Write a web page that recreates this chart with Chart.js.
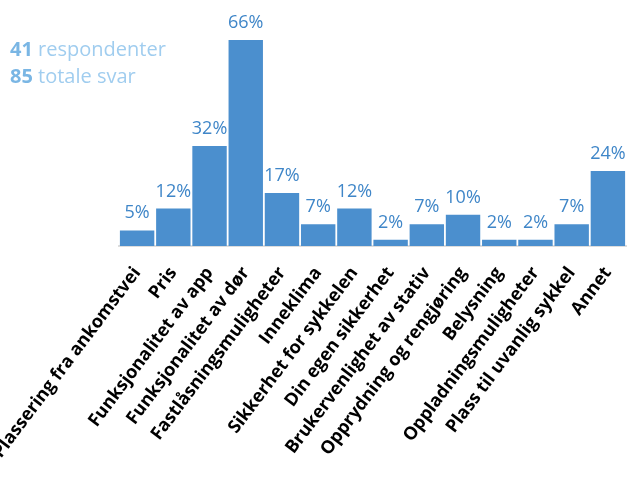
<!DOCTYPE html>
<html>
<head>
<meta charset="utf-8">
<script src="https://cdn.jsdelivr.net/npm/chart.js@4.4.0/dist/chart.umd.min.js"></script>
<style>
  html, body { margin: 0; padding: 0; background: #fff; }
  #wrap { position: relative; width: 636px; height: 479px; overflow: hidden; }
  #summary {
    position: absolute; left: 10px; top: 35px;
    font-family: "Open Sans", sans-serif; font-size: 20px; line-height: 27px;
    color: #a0cdef; font-weight: 400;
  }
  #summary b { color: #7ab6e4; font-weight: 700; }
</style>
</head>
<body>
<div id="wrap">
  <canvas id="chart" width="636" height="479"></canvas>
  <div id="summary"><b>41</b> respondenter<br><b>85</b> totale svar</div>
</div>
<script>
const categories = [
    'Plassering fra ankomstvei', 'Pris', 'Funksjonalitet av app', 'Funksjonalitet av dør',
    'Fastlåsningsmuligheter', 'Inneklima', 'Sikkerhet for sykkelen', 'Din egen sikkerhet',
    'Brukervenlighet av stativ', 'Opprydning og rengjøring', 'Belysning',
    'Oppladningsmuligheter', 'Plass til uvanlig sykkel', 'Annet'
];
const percentages = [5, 12, 32, 66, 17, 7, 12, 2, 7, 10, 2, 2, 7, 24];

// percentage labels above each bar
const valueLabels = {
    id: 'valueLabels',
    afterDatasetsDraw(chart) {
        const ctx = chart.ctx;
        const meta = chart.getDatasetMeta(0);
        ctx.save();
        ctx.font = '18px "Open Sans", sans-serif';
        ctx.fillStyle = '#3f86c8';
        ctx.textAlign = 'center';
        ctx.textBaseline = 'alphabetic';
        meta.data.forEach((bar, i) => {
            ctx.fillText(percentages[i] + '%', bar.x, bar.y - 12);
        });
        ctx.restore();
    }
};

const ctx = document.getElementById('chart').getContext('2d');
new Chart(ctx, {
    type: 'bar',
    data: {
        labels: categories,
        datasets: [{
            data: percentages,
            backgroundColor: '#4b8fce',
            borderWidth: 0,
            barPercentage: 0.95,
            categoryPercentage: 1
        }]
    },
    options: {
        responsive: false,
        animation: false,
        layout: { padding: { left: 119, right: 10, top: 40, bottom: 0 } },
        plugins: { legend: { display: false }, tooltip: { enabled: false } },
        scales: {
            x: {
                grid: { display: false },
                border: { display: true, color: '#dddddd', width: 2 },
                ticks: {
                    autoSkip: false,
                    maxRotation: 53,
                    minRotation: 53,
                    padding: 9,
                    color: '#000',
                    font: { family: '"Open Sans", sans-serif', size: 18, weight: 'bold' }
                },
                afterFit(scale) {
                    // let the first label run off the left edge
                    scale.paddingLeft = 0;
                    scale.paddingRight = 0;
                    scale.height = 233;
                }
            },
            y: { display: false, min: 0, max: 66 }
        }
    },
    plugins: [valueLabels]
});
</script>
</body>
</html>
